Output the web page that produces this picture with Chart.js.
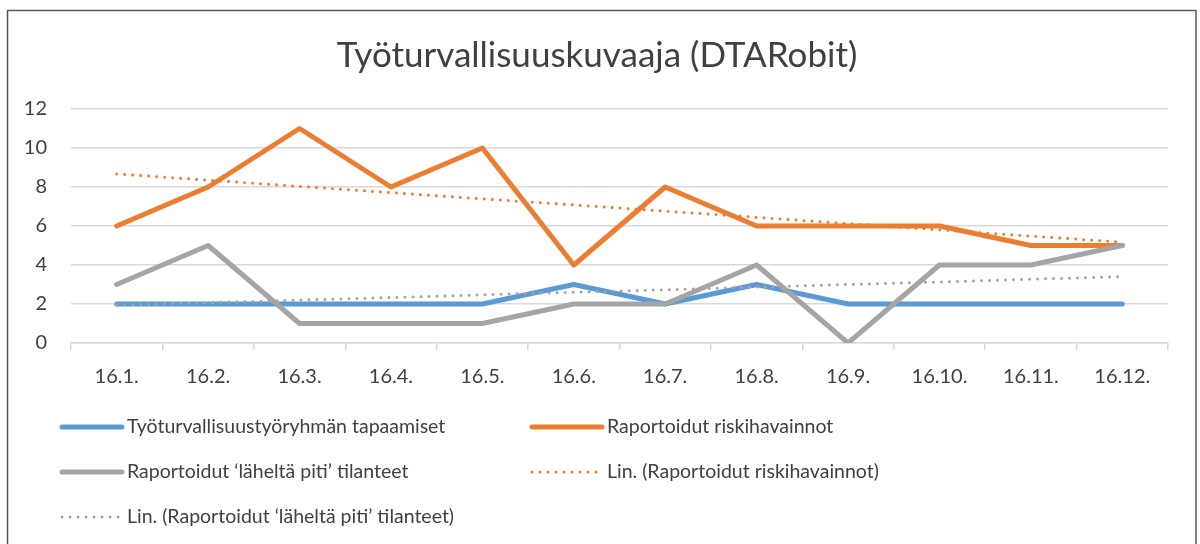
<!DOCTYPE html>
<html>
<head>
<meta charset="utf-8">
<script src="https://cdn.jsdelivr.net/npm/chart.js@4"></script>
<style>
  html, body { margin: 0; padding: 0; background: #fff; }
  #wrap { width: 1200px; height: 544px; }
</style>
</head>
<body>
<div id="wrap"><canvas id="myChart" width="1200" height="544"></canvas></div>
<script>
var labels = ['16.1.', '16.2.', '16.3.', '16.4.', '16.5.', '16.6.', '16.7.', '16.8.', '16.9.', '16.10.', '16.11.', '16.12.'];
var tapaamiset = [2, 2, 2, 2, 2, 3, 2, 3, 2, 2, 2, 2];
var riskihavainnot = [6, 8, 11, 8, 10, 4, 8, 6, 6, 6, 5, 5];
var lahelta = [3, 5, 1, 1, 1, 2, 2, 4, 0, 4, 4, 5];
// trendiviivat luettu kuvasta
var trendRiski = [8.67, 8.35, 8.03, 7.71, 7.39, 7.08, 6.76, 6.44, 6.12, 5.80, 5.48, 5.17];
var trendLahelta = [1.94, 2.07, 2.20, 2.33, 2.47, 2.60, 2.73, 2.87, 3.00, 3.13, 3.27, 3.40];
var yTicks = [0, 2, 4, 6, 8, 10, 12];

var FONT = 'Lato, "Open Sans", sans-serif';
var TEXT = '#404040';

function line(label, data, color, order) {
  return {
    label: label, data: data, borderColor: color, backgroundColor: color,
    borderWidth: 5, pointRadius: 0, borderJoinStyle: 'round', borderCapStyle: 'round',
    order: order
  };
}
function trend(label, data, color) {
  return {
    label: label, data: data, borderColor: color, backgroundColor: color,
    borderWidth: 3, pointRadius: 0, borderDash: [0.01, 8], borderCapStyle: 'round',
    order: 1
  };
}

// kehys, otsikko ja selite piirretään itse
var frame = {
  id: 'frame',
  beforeDraw: function (chart) {
    var c = chart.ctx;
    c.save();
    c.fillStyle = '#fff';
    c.fillRect(0, 0, chart.width, chart.height);
    c.strokeStyle = '#595959';
    c.lineWidth = 1.5;
    c.strokeRect(7.5, 10.5, 1188.5, 560);
    c.restore();
  },
  afterDraw: function (chart) {
    var c = chart.ctx;
    c.save();
    c.fillStyle = TEXT;
    c.font = '35px ' + FONT;
    c.textAlign = 'center';
    c.textBaseline = 'middle';
    c.fillText('Työturvallisuuskuvaaja (DTARobit)', 597, 56);

    var cols = [{ x: 60, len: 62 }, { x: 530, len: 72 }], rows = [427, 472, 517];
    c.font = '19.5px ' + FONT;
    c.textAlign = 'left';
    chart.data.datasets.forEach(function (ds, i) {
      var col = cols[i % 2], y = rows[Math.floor(i / 2)];
      c.beginPath();
      c.strokeStyle = ds.borderColor;
      c.lineWidth = ds.borderWidth;
      c.lineCap = 'round';
      c.setLineDash(ds.borderDash || []);
      c.moveTo(col.x + 2, y);
      c.lineTo(col.x + col.len, y);
      c.stroke();
      c.setLineDash([]);
      c.fillText(ds.label, col.x + col.len + 5, y);
    });
    c.restore();
  }
};

var ctx = document.getElementById('myChart').getContext('2d');
var myChart = new Chart(ctx, {
  type: 'line',
  data: {
    labels: labels,
    datasets: [
      line('Työturvallisuustyöryhmän tapaamiset', tapaamiset, '#5B9BD5', 4),
      line('Raportoidut riskihavainnot', riskihavainnot, '#ED7D31', 3),
      line('Raportoidut ‘läheltä piti’ tilanteet', lahelta, '#A5A5A5', 2),
      trend('Lin. (Raportoidut riskihavainnot)', trendRiski, '#ED7D31'),
      trend('Lin. (Raportoidut ‘läheltä piti’ tilanteet)', trendLahelta, '#A5A5A5')
    ]
  },
  options: {
    responsive: false,
    animation: false,
    layout: { padding: { top: 109, right: 32, bottom: 141, left: 0 } },
    plugins: { legend: { display: false }, title: { display: false }, tooltip: { enabled: false } },
    scales: {
      x: {
        offset: true,
        grid: { display: true, drawOnChartArea: false, drawTicks: true, tickLength: 7, color: '#D9D9D9', lineWidth: 1.5, offset: true },
        border: { display: true, color: '#D9D9D9', width: 1.5 },
        ticks: { color: TEXT, font: { family: FONT, size: 20 }, padding: 15, maxRotation: 0, autoSkip: false },
        afterFit: function (s) { s.height = 60; }
      },
      y: {
        min: 0, max: 12,
        afterBuildTicks: function (s) { s.ticks = yTicks.map(function (v) { return { value: v }; }); },
        grid: { color: '#D9D9D9', lineWidth: 1.5, drawTicks: false },
        border: { display: false },
        ticks: { color: TEXT, font: { family: FONT, size: 20 }, padding: 24 },
        afterFit: function (s) { s.width = 71; }
      }
    }
  },
  plugins: [frame]
});
</script>
</body>
</html>
